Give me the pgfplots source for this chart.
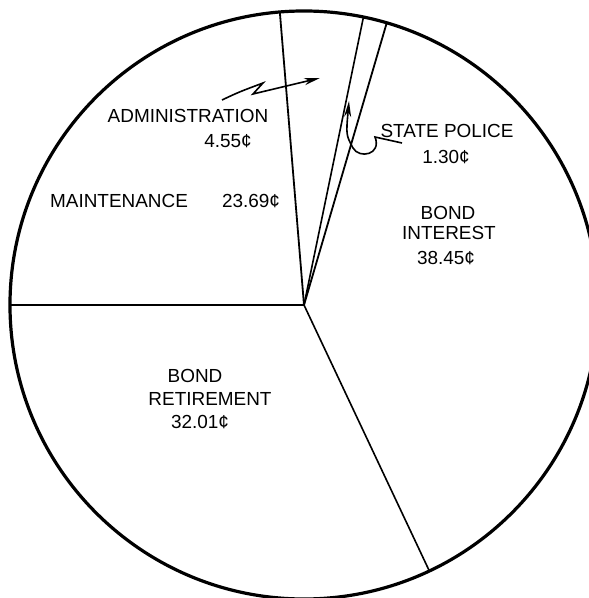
\documentclass[border=0pt]{standalone}
\usepackage{fontspec}
\setmainfont{Liberation Sans}
\usepackage{pgfplots}
\pgfplotsset{compat=1.18}
\usepgfplotslibrary{polar}
\usetikzlibrary{arrows.meta}

% shares of each dollar (cents), clockwise from the left horizontal
\pgfmathsetmacro\bA{180}
\pgfmathsetmacro\bB{\bA-3.6*23.69} % Maintenance
\pgfmathsetmacro\bC{\bB-3.6*4.55}  % Administration
\pgfmathsetmacro\bD{\bC-3.6*1.30}  % State Police
\pgfmathsetmacro\bE{\bD-3.6*38.45} % Bond Interest
% Bond Retirement 32.01 closes the circle

\begin{document}
\begin{tikzpicture}
\begin{polaraxis}[
  scale only axis, width=294bp, height=294bp,
  ymin=0, ymax=1, xtick=\empty, ytick=\empty,
  axis line style={line width=1.6bp, black},
  y axis line style={draw=none},
  clip=false,
]
\addplot[black, line width=1.1bp, mark=none] coordinates {(\bA,0) (\bA,1)};
\addplot[black, line width=0.9bp, mark=none] coordinates {(\bB,0) (\bB,1)};
\addplot[black, line width=0.8bp, mark=none] coordinates {(\bC,0) (\bC,1)};
\addplot[black, line width=0.9bp, mark=none] coordinates {(\bD,0) (\bD,1)};
\addplot[black, line width=0.8bp, mark=none] coordinates {(\bE,0) (\bE,1)};
\coordinate (c) at (axis cs:0,0);
\end{polaraxis}
\begin{scope}[shift={(c)}, x=0.5bp, y=0.5bp, font=\fontsize{9.5}{11}\selectfont, every node/.style={inner sep=0pt}]
\node at (-116,189) {ADMINISTRATION};
\node at (-76,164) {4.55¢};
\node at (-185,104) {MAINTENANCE};
\node at (-53,104) {23.69¢};
\node at (143,174) {STATE POLICE};
\node at (142,148) {1.30¢};
\node at (144,92) {BOND};
\node at (145,72) {INTEREST};
\node at (142,47) {38.45¢};
\node at (-109,-71) {BOND};
\node at (-94,-94) {RETIREMENT};
\node at (-104,-117) {32.01¢};
\draw[line width=0.8bp, -{Stealth[length=8bp, width=3.5bp]}]
  (-82,205) .. controls (-65,213) .. (-41,222) -- (-51,211) -- (16,227);
\draw[line width=0.8bp, -{Stealth[length=8bp, width=3.5bp]}]
  (98,162) .. controls (85,165) .. (71,168) .. controls (78,150) and (55,146) .. (49,157) .. controls (42,170) .. (45,204);
\pgfresetboundingbox
\path (-304,-293) rectangle (285,305);
\end{scope}
\end{tikzpicture}
\end{document}
